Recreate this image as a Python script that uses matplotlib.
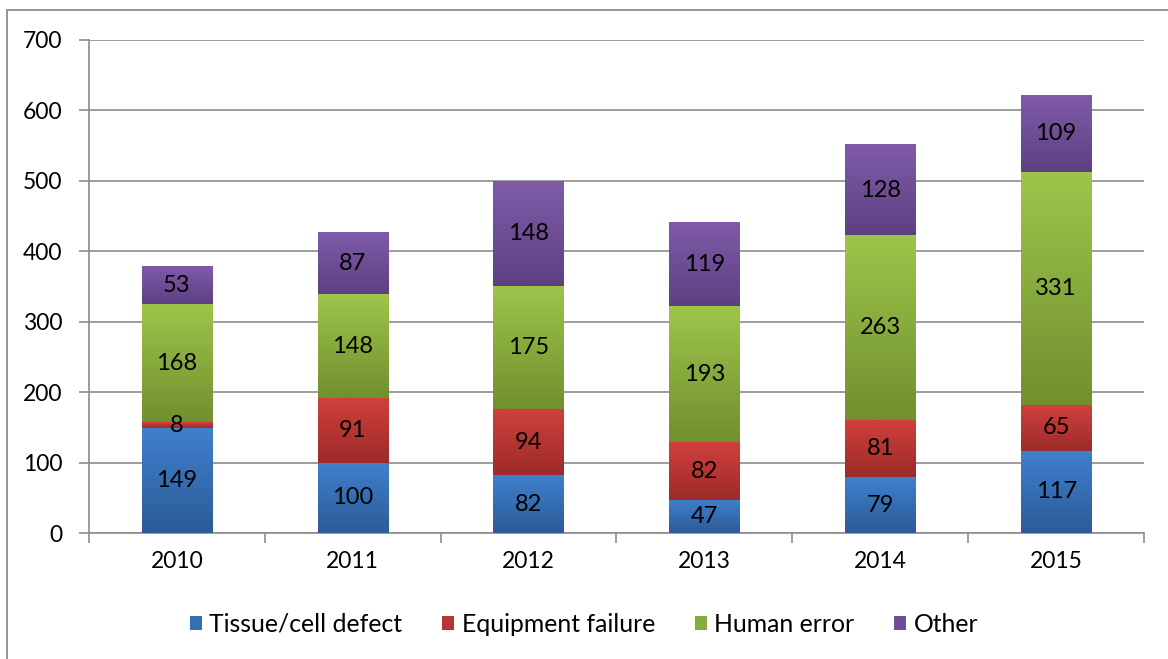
import numpy as np
import matplotlib
matplotlib.use("Agg")
import matplotlib.pyplot as plt
from matplotlib.colors import LinearSegmentedColormap, to_rgb
from matplotlib.patches import Rectangle, Patch

plt.rcParams['font.family'] = ['Lato', 'DejaVu Sans']

years = ['2010', '2011', '2012', '2013', '2014', '2015']
series_names = ['Tissue/cell defect', 'Equipment failure', 'Human error', 'Other']
tissue = [149, 100, 82, 47, 79, 117]
equipment = [8, 91, 94, 82, 81, 65]
human = [168, 148, 175, 193, 263, 331]
other = [53, 87, 148, 119, 128, 109]

# (top colour, bottom colour) for the Excel-like vertical gradient
grad_colors = [('#3f80cd', '#2c5b97'),
               ('#d0403c', '#9c2b29'),
               ('#9dc54a', '#71902f'),
               ('#7f5ba9', '#5d4082')]

fig = plt.figure(figsize=(11.68, 6.59), dpi=100)
ax = fig.add_axes([89 / 1168, 1 - 533 / 659, (1144 - 89) / 1168, (533 - 40) / 659])

# outer chart border
fig.patches.append(Rectangle((7 / 1168, -0.01), 1.02, 1 - 10 / 659 + 0.01,
                             transform=fig.transFigure, fill=False,
                             edgecolor='#8c8c8c', linewidth=1.3))

x = np.arange(len(years))
bottom = np.zeros(len(years))
grad = np.linspace(0, 1, 64).reshape(-1, 1)
for vals, (top_c, bot_c), name in zip([tissue, equipment, human, other], grad_colors, series_names):
    bars = ax.bar(x, vals, width=0.4, bottom=bottom, color=top_c, linewidth=0, zorder=2)
    cmap = LinearSegmentedColormap.from_list(name, [bot_c, top_c])
    for p, v in zip(bars, vals):
        x0, y0, w, h = p.get_x(), p.get_y(), p.get_width(), p.get_height()
        ax.imshow(grad, cmap=cmap, origin='lower', aspect='auto',
                  extent=(x0, x0 + w, y0, y0 + h), zorder=3, interpolation='bilinear')
        ax.text(x0 + w / 2, y0 + h / 2, str(v), ha='center', va='center',
                fontsize=17, color='black', zorder=4)
    bottom = bottom + np.array(vals)

ax.set_xlim(-0.5, len(years) - 0.5)
ax.set_ylim(0, 700)
ax.set_yticks(range(0, 701, 100))
ax.yaxis.grid(True, color='#8c8c8c', linewidth=1.2, zorder=0)
ax.set_axisbelow(True)

ax.set_xticks(x)
ax.set_xticklabels(years, fontsize=16.5)
ax.set_xticks(np.arange(-0.5, len(years)), minor=True)
ax.tick_params(axis='x', which='major', length=0, pad=13)
ax.tick_params(axis='x', which='minor', length=7, width=1.2, color='#8c8c8c')
ax.tick_params(axis='y', length=7, width=1.2, color='#8c8c8c', labelsize=16.5, pad=12)

for s in ['top', 'right']:
    ax.spines[s].set_visible(False)
for s in ['left', 'bottom']:
    ax.spines[s].set_color('#8c8c8c')
    ax.spines[s].set_linewidth(1.2)

mid_colors = [(np.array(to_rgb(t)) + np.array(to_rgb(b))) / 2 for t, b in grad_colors]
handles = [Patch(facecolor=c, edgecolor='none') for c in mid_colors]
fig.legend(handles, series_names, loc='center', bbox_to_anchor=(0.5, 1 - 624 / 659),
           ncol=4, frameon=False, fontsize=17.8, handlelength=0.5, handleheight=0.5,
           handletextpad=0.3, columnspacing=1.6)

fig.savefig('out.png', dpi=100)
